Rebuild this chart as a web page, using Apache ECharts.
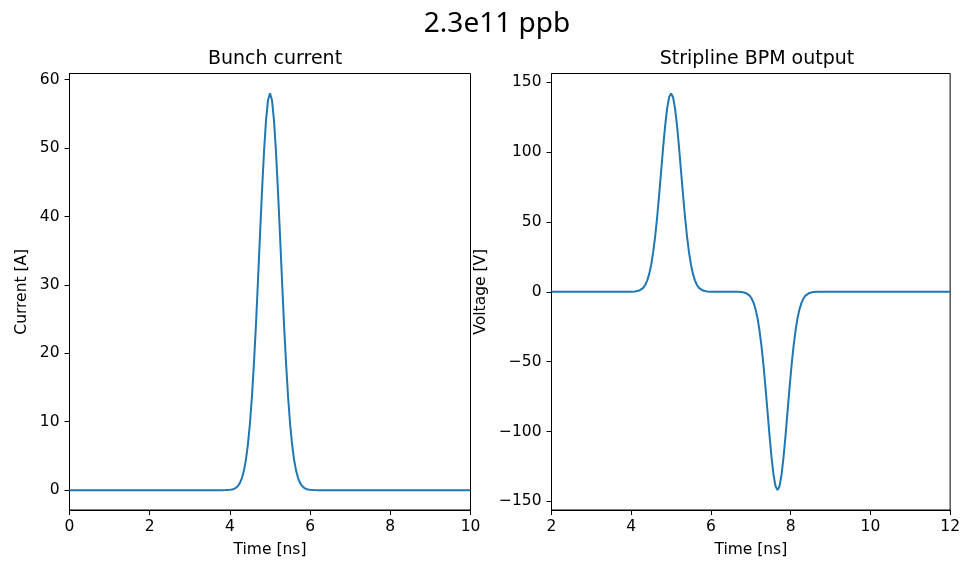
<!DOCTYPE html>
<html>
<head>
<meta charset="utf-8">
<script src="https://cdn.jsdelivr.net/npm/echarts@6/dist/echarts.min.js"></script>
<style>html,body{margin:0;padding:0;background:#fff}#c{width:963px;height:563px}</style>
</head>
<body>
<div id="c"></div>
<script>
// Bunch current [A] vs time [ns]
const curTime = [0,1,2,3,3.8,3.9,4.0,4.05,4.1,4.15,4.2,4.25,4.3,4.35,4.4,4.45,4.5,4.55,4.6,4.65,4.7,4.75,4.8,4.85,4.9,4.95,
  5.0,5.05,5.1,5.15,5.2,5.25,5.3,5.35,5.4,5.45,5.5,5.55,5.6,5.65,5.7,5.75,5.8,5.85,5.9,5.95,6.0,6.1,6.2,7,8,9,10];
const curVal = [0,0,0,0,0,0.01,0.05,0.09,0.18,0.34,0.61,1.06,1.77,2.86,4.47,6.73,9.78,13.7,18.6,24.2,30.6,37.2,43.6,49.4,54.0,57.0,
  58.0,57.0,54.0,49.4,43.6,37.2,30.6,24.2,18.6,13.7,9.78,6.73,4.47,2.86,1.77,1.06,0.61,0.34,0.18,0.09,0.05,0.01,0,0,0,0,0];

// Stripline BPM output [V] vs time [ns]
const bpmTime = [2,3,3.8,3.9,4.0,4.05,4.1,4.15,4.2,4.25,4.3,4.35,4.4,4.45,4.5,4.55,4.6,4.65,4.7,4.75,4.8,4.85,4.9,4.95,
  5.0,5.05,5.1,5.15,5.2,5.25,5.3,5.35,5.4,5.45,5.5,5.55,5.6,5.65,5.7,5.75,5.8,5.85,5.9,5.95,6.0,6.1,6.2,6.47,
  6.57,6.67,6.72,6.77,6.82,6.87,6.92,6.97,7.02,7.07,7.12,7.17,7.22,7.27,7.32,7.37,7.42,7.47,7.52,7.57,7.62,
  7.67,7.72,7.77,7.82,7.87,7.92,7.97,8.02,8.07,8.12,8.17,8.22,8.27,8.32,8.37,8.42,8.47,8.52,8.57,8.62,8.67,8.77,8.87,9,10,11,12];
const bpmVal = [0,0,0,0.01,0.05,0.10,0.22,0.44,0.85,1.58,2.82,4.83,7.97,12.6,19.2,28.1,39.5,53.3,69.1,86.1,103.1,118.6,131.1,139.2,
  142,139.2,131.1,118.6,103.1,86.1,69.1,53.3,39.5,28.1,19.2,12.6,7.97,4.83,2.82,1.58,0.85,0.44,0.22,0.10,0.05,0.01,0,0,
  -0.01,-0.05,-0.10,-0.22,-0.44,-0.85,-1.58,-2.82,-4.83,-7.97,-12.6,-19.2,-28.1,-39.5,-53.3,-69.1,-86.1,-103.1,-118.6,-131.1,-139.2,
  -142,-139.2,-131.1,-118.6,-103.1,-86.1,-69.1,-53.3,-39.5,-28.1,-19.2,-12.6,-7.97,-4.83,-2.82,-1.58,-0.85,-0.44,-0.22,-0.10,-0.05,-0.01,0,0,0,0,0];

const curTicks = [0,10,20,30,40,50,60];
const bpmTicks = [-150,-100,-50,0,50,100,150];

const suptitle = '2.3e11 ppb';
const titles = ['Bunch current', 'Stripline BPM output'];

const FONT = 'DejaVu Sans';
const FS = 15.5;
const minus = v => String(v).replace('-', '\u2212');

const chart = echarts.init(document.getElementById('c'), null, {renderer: 'canvas'});

function xAxisDef(idx, min, max) {
  return {
    type: 'value', gridIndex: idx, min: min, max: max, interval: 2,
    name: 'Time [ns]', nameLocation: 'middle', nameGap: 32,
    nameTextStyle: {fontFamily: FONT, fontSize: FS, color: '#000'},
    axisLine: {show: true, onZero: false, lineStyle: {color: '#000', width: 1}},
    axisTick: {show: true, inside: false, length: 5, lineStyle: {color: '#000', width: 1}},
    axisLabel: {fontFamily: FONT, fontSize: FS, color: '#000', margin: 9, formatter: minus},
    splitLine: {show: false}
  };
}
function yAxisDef(idx, min, max, ticks, name, gap) {
  return {
    type: 'value', gridIndex: idx, min: min, max: max,
    name: name, nameLocation: 'middle', nameGap: gap,
    nameTextStyle: {fontFamily: FONT, fontSize: FS, color: '#000'},
    axisLine: {show: true, onZero: false, lineStyle: {color: '#000', width: 1}},
    axisTick: {show: true, inside: false, length: 5, customValues: ticks, lineStyle: {color: '#000', width: 1}},
    axisLabel: {fontFamily: FONT, fontSize: FS, color: '#000', margin: 10, customValues: ticks, formatter: minus},
    splitLine: {show: false}
  };
}

chart.setOption({
  animation: false,
  backgroundColor: '#fff',
  title: [
    {text: suptitle, left: 492, top: 5, textAlign: 'center',
     textStyle: {fontFamily: 'Noto Sans', fontSize: 28, fontWeight: 'normal', color: '#000'}},
    {text: titles[0], left: 270, top: 45, textAlign: 'center',
     textStyle: {fontFamily: FONT, fontSize: 19, fontWeight: 'normal', color: '#000'}},
    {text: titles[1], left: 752, top: 45, textAlign: 'center',
     textStyle: {fontFamily: FONT, fontSize: 19, fontWeight: 'normal', color: '#000'}}
  ],
  grid: [
    {left: 69.5, top: 73.5, width: 401, height: 440, show: true, borderColor: '#000', borderWidth: 1, containLabel: false},
    {left: 551.5, top: 73.5, width: 401, height: 440, show: true, borderColor: '#000', borderWidth: 1, containLabel: false}
  ],
  xAxis: [xAxisDef(0, 0, 10), xAxisDef(1, 2, 12)],
  yAxis: [
    yAxisDef(0, -2.9, 60.9, curTicks, 'Current [A]', 40),
    yAxisDef(1, -156.2, 156.2, bpmTicks, 'Voltage [V]', 63)
  ],
  series: [
    {type: 'line', xAxisIndex: 0, yAxisIndex: 0, showSymbol: false, symbol: 'none',
     lineStyle: {color: '#1f77b4', width: 2}, data: curTime.map((t, i) => [t, curVal[i]])},
    {type: 'line', xAxisIndex: 1, yAxisIndex: 1, showSymbol: false, symbol: 'none',
     lineStyle: {color: '#1f77b4', width: 2}, data: bpmTime.map((t, i) => [t, bpmVal[i]])}
  ]
});
</script>
</body>
</html>
